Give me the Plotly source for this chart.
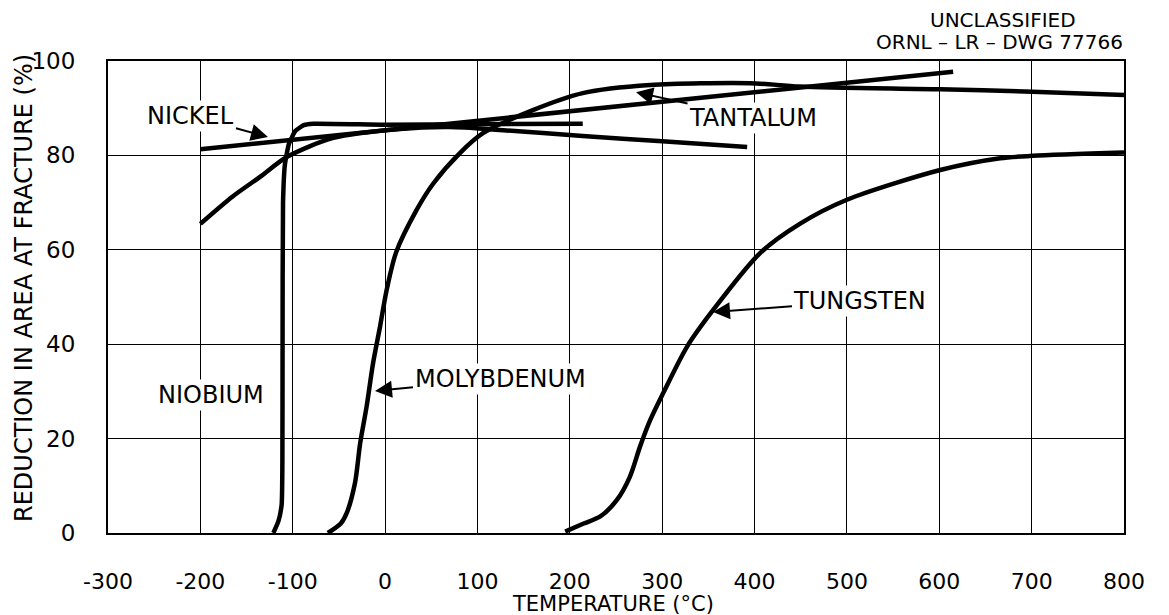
import plotly.graph_objects as go

# ---- data ----
x_ticks = [-300, -200, -100, 0, 100, 200, 300, 400, 500, 600, 700, 800]
x_tick_text = ["-300", "-200", "-100", "0", "100", "200", "300", "400", "500", "600", "700", "800"]
y_ticks = [0, 20, 40, 60, 80, 100]
y_tick_text = ["0", "20", "40", "60", "80", "100"]

nickel_t = [-200, 615]
nickel_ra = [81.3, 97.7]

niobium_t = [-121, -115.5, -112, -111.2, -111, -110.5, -108.5, -104, -97, -88, -78, 0, 100, 214]
niobium_ra = [0, 2.5, 6, 15, 40, 70, 78, 82.5, 85.2, 86.4, 86.7, 86.5, 86.6, 86.7]

tantalum_t = [-200, -165, -135, -106, -56, 16, 70, 124, 214, 300, 392]
tantalum_ra = [65.5, 71.3, 75.5, 79.7, 83.7, 85.6, 86.0, 85.4, 84.1, 83.0, 81.8]

molybdenum_t = [-62, -48, -41.6, -32.6, -27, -20, -13, -5.5, 1.7, 12, 34, 52, 81, 106, 160, 214, 287, 395, 449, 601, 701, 800]
molybdenum_ra = [0, 2, 4.2, 10.6, 19, 26.8, 36, 43.7, 51.5, 59.5, 68.4, 74, 80.5, 84.7, 89.6, 93.2, 94.9, 95.3, 94.6, 94.0, 93.5, 92.8]

tungsten_t = [195, 215, 233, 251, 265, 276, 287, 301, 327, 355, 406, 449, 500, 601, 666, 701, 800]
tungsten_ra = [0.3, 2, 3.5, 7, 11.9, 18.3, 23.9, 29.6, 39.5, 47.2, 59.3, 65.5, 70.6, 76.9, 79.4, 79.9, 80.6]

FONT = "DejaVu Sans, Liberation Sans, sans-serif"
LW = 4.5

fig = go.Figure()

def add(t, ra, name, shape="spline", smoothing=0.8):
    line = dict(color="black", width=LW, shape=shape)
    if shape == "spline":
        line["smoothing"] = smoothing
    fig.add_trace(go.Scatter(x=t, y=ra, mode="lines", name=name, line=line, showlegend=False))

add(nickel_t, nickel_ra, "Nickel", shape="linear")
add(niobium_t, niobium_ra, "Niobium", smoothing=0.5)
add(tantalum_t, tantalum_ra, "Tantalum")
add(molybdenum_t, molybdenum_ra, "Molybdenum")
add(tungsten_t, tungsten_ra, "Tungsten")

label_font = dict(family=FONT, size=24, color="black")
arrow_kw = dict(showarrow=True, arrowhead=2, arrowsize=1.7, arrowwidth=2, arrowcolor="black",
                bgcolor="white", font=label_font, xref="x", yref="y")

fig.add_annotation(x=-126.8, y=83.9, text="NICKEL", ax=-77, ay=-21, **arrow_kw)
fig.add_annotation(x=271.7, y=93.4, text="TANTALUM", ax=117, ay=26, **arrow_kw)
fig.add_annotation(x=-10.9, y=30.1, text="MOLYBDENUM", ax=125, ay=-12, **arrow_kw)
fig.add_annotation(x=355, y=46.8, text="TUNGSTEN", ax=147, ay=-11, **arrow_kw)
fig.add_annotation(x=-188.5, y=29.3, text="NIOBIUM", showarrow=False, bgcolor="white",
                   font=label_font, xref="x", yref="y")

# header text
hdr_font = dict(family=FONT, size=20, color="black")
fig.add_annotation(x=0.881, y=1.087, xref="paper", yref="paper", xanchor="center", yanchor="middle",
                   text="UNCLASSIFIED", showarrow=False, font=hdr_font)
fig.add_annotation(x=0.877, y=1.040, xref="paper", yref="paper", xanchor="center", yanchor="middle",
                   text="ORNL – LR – DWG 77766", showarrow=False, font=hdr_font)

# axis titles
fig.add_annotation(x=-0.0827, y=0.519, xref="paper", yref="paper", xanchor="center", yanchor="middle",
                   text="REDUCTION IN AREA AT FRACTURE (%)", textangle=-90,
                   showarrow=False, font=dict(family=FONT, size=24, color="black"))
fig.add_annotation(x=0.497, y=-0.1504, xref="paper", yref="paper", xanchor="center", yanchor="middle",
                   text="TEMPERATURE (°C)",
                   showarrow=False, font=dict(family=FONT, size=21, color="black"))

axis_common = dict(showgrid=True, gridcolor="black", gridwidth=1.2, zeroline=False,
                   showline=True, linecolor="black", linewidth=2, mirror=True, ticks="")

fig.update_xaxes(range=[-300, 800], tickvals=x_ticks, ticktext=x_tick_text,
                 ticklabelstandoff=28, tickfont=dict(family=FONT, size=22, color="black"),
                 **axis_common)
fig.update_yaxes(range=[0, 100], tickvals=y_ticks, ticktext=y_tick_text,
                 ticklabelstandoff=26, tickfont=dict(family=FONT, size=23, color="black"),
                 **axis_common)

fig.update_layout(width=1169, height=615, margin=dict(l=108, r=45, t=61, b=82),
                  plot_bgcolor="white", paper_bgcolor="white", showlegend=False)

fig.write_html("out.html")
